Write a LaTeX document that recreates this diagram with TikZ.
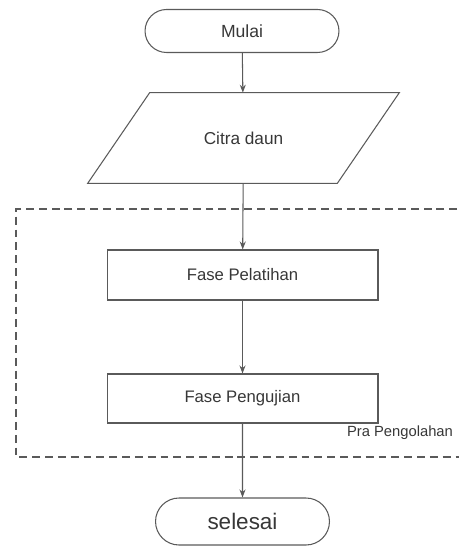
\documentclass[tikz,border=0pt]{standalone}
\usepackage{fontspec}
\setmainfont{Liberation Sans}
\usepackage{tikz}
\usetikzlibrary{shapes.geometric,shapes.misc,arrows.meta,positioning,calc}
\definecolor{linegrey}{RGB}{90,90,90}
\definecolor{textgrey}{RGB}{55,55,55}

\begin{document}
\begin{tikzpicture}[x=0.02cm, y=-0.02cm,
    terminal/.style={rounded rectangle, draw=linegrey, line width=0.6pt,
                minimum width=#1, minimum height=0.9cm, inner sep=2pt, text=textgrey},
    inputbox/.style={rectangle, minimum width=4.98cm, minimum height=1.8cm, inner sep=0pt,
                font=\fontsize{9.8}{11}\selectfont, text=textgrey},
    process/.style={rectangle, draw=linegrey, line width=0.6pt,
                minimum width=5.42cm, minimum height=1.0cm,
                font=\fontsize{9.5}{11}\selectfont, text=textgrey},
    outline/.style={draw=linegrey, line width=0.6pt, line join=miter},
    arr/.style={-{Stealth[length=1.6mm,width=1.2mm]}, line width=0.6pt, linegrey}
]
    \useasboundingbox (0,0) rectangle (458,546);

    % dashed region
    \draw[linegrey, line width=0.6pt, dash pattern=on 4.5pt off 2.8pt]
        (470,209) -- (16,209) -- (16,457) -- (470,457);
    \node[font=\fontsize{8.4}{10}\selectfont, text=textgrey] (pra) at (400,433) {Pra Pengolahan};

    \node[terminal=4.02cm, minimum height=0.86cm, font=\fontsize{10}{12}\selectfont] (mulai) at (242,31) {Mulai};
    \node[inputbox]  (citra)     at (243.5,138) {Citra daun};
    \draw[outline] ($(citra.south west)+(-31,0)$) -- ($(citra.south east)+(-31,0)$)
        -- ($(citra.north east)+(31,0)$) -- ($(citra.north west)+(31,0)$) -- cycle;
    \node[process]   (pelatihan) at (242.5,275) {Fase Pelatihan};
    \node[process, minimum height=0.98cm] (pengujian) at (242.5,398.5) {Fase Pengujian};
    \node[terminal=3.62cm, minimum height=0.94cm, font=\fontsize{12.8}{14}\selectfont] (selesai) at (242.5,521.5) {selesai};

    \draw[arr] (mulai)     -- (citra);
    \draw[arr] (citra)     -- (pelatihan);
    \draw[arr] (pelatihan) -- (pengujian);
    \draw[arr] (pengujian) -- (selesai);
\end{tikzpicture}
\end{document}
